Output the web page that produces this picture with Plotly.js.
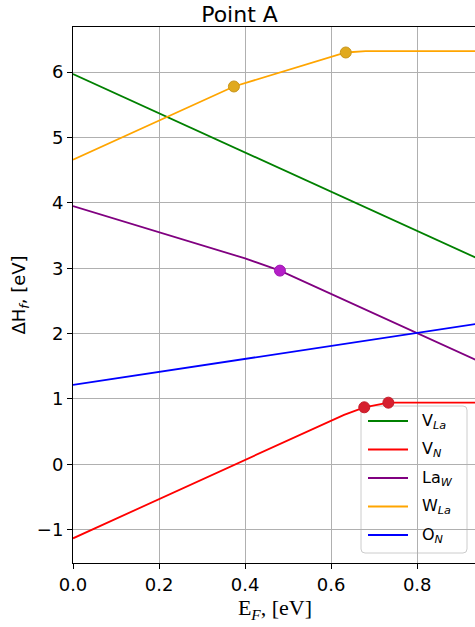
<!DOCTYPE html>
<html>
<head>
<meta charset="utf-8">
<script src="https://cdn.plot.ly/plotly-3.0.1.min.js"></script>
<style>
  html, body { margin: 0; padding: 0; overflow: hidden; background: #fff; }
  #chart { width: 479px; height: 627px; }
</style>
</head>
<body>
<div id="chart"></div>
<script>
// Formation energy of each defect vs. Fermi level (kinks = charge transitions)
const ef_VLa = [0, 0.94];
const dh_VLa = [5.97, 3.15];

const ef_VN = [0, 0.63, 0.677, 0.733, 0.94];
const dh_VN = [-1.133, 0.757, 0.872, 0.943, 0.943];

const ef_LaW = [0, 0.4, 0.481, 0.94];
const dh_LaW = [3.95, 3.15, 2.963, 1.586];

const ef_WLa = [0, 0.374, 0.634, 0.68, 0.94];
const dh_WLa = [4.66, 5.78, 6.30, 6.32, 6.32];

const ef_ON = [0, 0.94];
const dh_ON = [1.214, 2.15];

// Transition levels
const tr_WLa_x = [0.374, 0.634];
const tr_WLa_y = [5.78, 6.30];
const tr_VN_x = [0.677, 0.733];
const tr_VN_y = [0.872, 0.943];
const tr_LaW_x = [0.481];
const tr_LaW_y = [2.963];

const legendNames = ['V<sub><i>La</i></sub>', 'V<sub><i>N</i></sub>', 'La<sub><i>W</i></sub>',
                     'W<sub><i>La</i></sub>', 'O<sub><i>N</i></sub>'];
const legendColors = ['green', 'red', 'purple', 'orange', 'blue'];

const xTicks = [0, 0.2, 0.4, 0.6, 0.8];
const xTickText = ['0.0', '0.2', '0.4', '0.6', '0.8'];
const yTicks = [-1, 0, 1, 2, 3, 4, 5, 6];

const lineW = 1.8;
function line(x, y, i) {
  return { x: x, y: y, name: legendNames[i], type: 'scatter', mode: 'lines',
           showlegend: false, hoverinfo: 'skip',
           line: { color: legendColors[i], width: lineW } };
}
function dots(x, y, color, edge) {
  return { x: x, y: y, type: 'scatter', mode: 'markers', showlegend: false,
           hoverinfo: 'skip',
           marker: { color: color, size: 11, line: { color: edge, width: 1 } } };
}

const traces = [
  line(ef_VLa, dh_VLa, 0),
  line(ef_VN, dh_VN, 1),
  line(ef_LaW, dh_LaW, 2),
  line(ef_WLa, dh_WLa, 3),
  line(ef_ON, dh_ON, 4),
  dots(tr_WLa_x, tr_WLa_y, '#e0a91e', '#c8951a'),
  dots(tr_VN_x, tr_VN_y, '#d61f2e', '#c41a28'),
  dots(tr_LaW_x, tr_LaW_y, '#b51fc8', '#a01ab2')
];

// Plot-area geometry (px) used to place the legend box in paper units
const W = 479, H = 627;
const M = { l: 73, r: 2, t: 27, b: 64 };
const plotW = W - M.l - M.r, plotH = H - M.t - M.b;
const px = v => (v - M.l) / plotW;
const py = v => (H - M.b - v) / plotH;

// Legend box (drawn beneath the markers, over the grid)
const box = { x0: px(361), x1: px(467), y0: py(553), y1: py(406) };
const rx = 4 / plotW, ry = 4 / plotH;
const boxPath =
  `M${box.x0 + rx},${box.y0} L${box.x1 - rx},${box.y0} Q${box.x1},${box.y0} ${box.x1},${box.y0 + ry} ` +
  `L${box.x1},${box.y1 - ry} Q${box.x1},${box.y1} ${box.x1 - rx},${box.y1} ` +
  `L${box.x0 + rx},${box.y1} Q${box.x0},${box.y1} ${box.x0},${box.y1 - ry} ` +
  `L${box.x0},${box.y0 + ry} Q${box.x0},${box.y0} ${box.x0 + rx},${box.y0} Z`;

const shapes = [{
  type: 'path', path: boxPath, xref: 'paper', yref: 'paper', layer: 'between',
  fillcolor: 'rgba(255,255,255,0.8)', line: { color: '#cccccc', width: 1 }
}];
const annotations = [];
legendNames.forEach((name, i) => {
  const yc = py(421 + i * 28.5);
  shapes.push({ type: 'line', xref: 'paper', yref: 'paper', layer: 'between',
                x0: px(368), x1: px(408), y0: yc, y1: yc,
                line: { color: legendColors[i], width: lineW } });
  annotations.push({ text: name, xref: 'paper', yref: 'paper', x: px(420), y: yc,
                     xanchor: 'left', yanchor: 'middle', showarrow: false,
                     font: { size: 16, family: 'DejaVu Sans', color: '#000' } });
});

const layout = {
  width: W, height: H,
  margin: M,
  paper_bgcolor: '#fff', plot_bgcolor: '#fff',
  font: { family: 'DejaVu Sans', size: 18, color: '#000' },
  title: { text: 'Point A', font: { size: 22, family: 'DejaVu Sans' },
           x: 0.5, xanchor: 'center', y: 0.99, yanchor: 'top', yref: 'container' },
  showlegend: false,
  shapes: shapes,
  annotations: annotations,
  xaxis: {
    range: [0, 0.939],
    tickvals: xTicks, ticktext: xTickText,
    ticks: 'outside', ticklen: 5, tickwidth: 1, tickcolor: '#000',
    showgrid: true, gridcolor: '#b0b0b0', gridwidth: 1,
    zeroline: false, showline: true, linecolor: '#000', linewidth: 1, mirror: true,
    tickfont: { size: 18 },
    title: { text: 'E<sub><i>F</i></sub>, [eV]', font: { family: 'Liberation Serif', size: 22 }, standoff: 6 }
  },
  yaxis: {
    range: [-1.51, 6.69],
    tickvals: yTicks,
    ticks: 'outside', ticklen: 5, tickwidth: 1, tickcolor: '#000',
    showgrid: true, gridcolor: '#b0b0b0', gridwidth: 1,
    zeroline: false, showline: true, linecolor: '#000', linewidth: 1, mirror: true,
    tickfont: { size: 18 },
    title: { text: 'ΔH<sub><i>f</i></sub>, [eV]', font: { size: 18 }, standoff: 6 }
  }
};

Plotly.newPlot('chart', traces, layout, { displayModeBar: false, staticPlot: true });
</script>
</body>
</html>
